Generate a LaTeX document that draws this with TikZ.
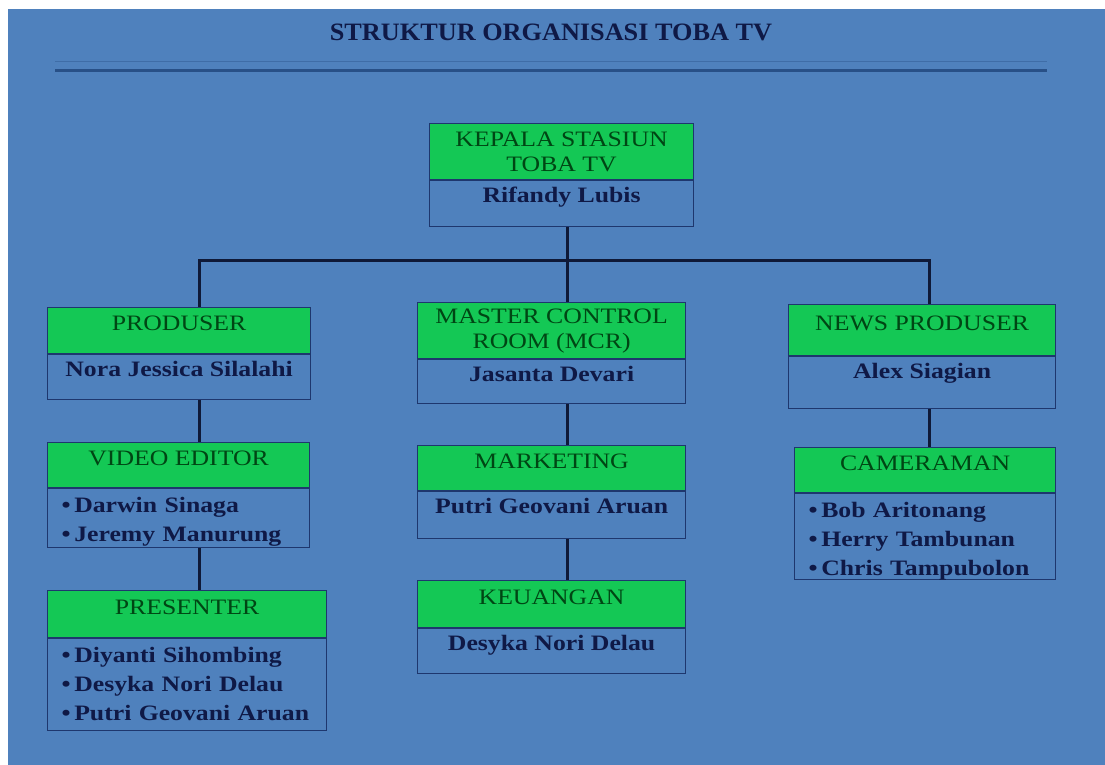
\documentclass[tikz,border=0pt]{standalone}
\usepackage{fontspec}
\setmainfont{Liberation Serif}[FakeStretch=1.17]
\newfontfamily\titlefont{Liberation Serif}[FakeStretch=1.05]
\usepackage{xcolor}
\usepackage{tikz}
\usetikzlibrary{positioning,calc}

\definecolor{bgblue}{RGB}{79,129,189}
\definecolor{headgreen}{RGB}{20,200,85}
\definecolor{headtext}{RGB}{0,70,20}
\definecolor{nametext}{RGB}{15,25,70}
\definecolor{boxline}{RGB}{30,55,110}
\definecolor{linenavy}{RGB}{15,25,55}
\definecolor{rulecol}{RGB}{40,80,135}

\tikzset{
  head/.style={draw=boxline,line width=1.2pt,fill=headgreen,text=headtext,anchor=north west,inner sep=0pt,align=center,font=\fontsize{22}{25}\selectfont},
  headone/.style={head,text height=22.6pt,text depth=22pt},
  body/.style={draw=boxline,line width=1.2pt,fill=bgblue,text=nametext,inner sep=0pt,font=\fontsize{22}{29}\selectfont\bfseries},
  bodyone/.style={body,text height=22pt,text depth=#1},
  bodylist/.style={body,align=left,inner xsep=14pt,text height=24pt,text depth=#1},
  conn/.style={draw=linenavy,line width=3pt}
}

\begin{document}
\begin{tikzpicture}[x=1pt,y=-1pt]
\useasboundingbox (0,0) rectangle (1105,765);
\fill[white] (0,0) rectangle (1105,765);
\fill[bgblue] (8,9) rectangle (1105,765);

% judul
\node[text=nametext,font={\titlefont\fontsize{25}{30}\selectfont\bfseries}] (title) at (551,32) {STRUKTUR ORGANISASI TOBA TV};
\draw[rulecol!40!bgblue,line width=0.8pt] (55,61) -- (1047,61);
\draw[rulecol,line width=3pt] (55,71) -- (1047,71);

% kepala
\node[head,minimum width=264pt,minimum height=56pt] (kepala) at (429,123) {KEPALA STASIUN\\TOBA TV};
\node[bodyone=24pt,minimum width=264pt,below=0pt of kepala] (kepala-body) {Rifandy Lubis};

% baris kedua
\node[headone,minimum width=263pt,minimum height=46pt] (produser) at (47,307) {PRODUSER};
\node[bodyone=23pt,minimum width=263pt,below=0pt of produser] (produser-body) {Nora Jessica Silalahi};
\node[head,minimum width=268pt,minimum height=56pt] (mcr) at (417,302) {MASTER CONTROL\\ROOM (MCR)};
\node[bodyone=22pt,minimum width=268pt,below=0pt of mcr] (mcr-body) {Jasanta Devari};
\node[headone,minimum width=267pt,minimum height=51pt] (news) at (788,304) {NEWS PRODUSER};
\node[bodyone=30pt,minimum width=267pt,below=0pt of news] (news-body) {Alex Siagian};

% baris ketiga
\node[headone,minimum width=262pt,minimum height=45pt] (video) at (47,442) {VIDEO EDITOR};
\node[bodylist=35pt,text width=234pt,minimum width=262pt,below=0pt of video] (video-body) {\textbullet\,Darwin Sinaga\\\textbullet\,Jeremy Manurung};
\node[headone,minimum width=268pt,minimum height=45pt] (marketing) at (417,445) {MARKETING};
\node[bodyone=25pt,minimum width=268pt,below=0pt of marketing] (marketing-body) {Putri Geovani Aruan};
\node[headone,minimum width=261pt,minimum height=45pt] (cameraman) at (794,447) {CAMERAMAN};
\node[bodylist=62pt,text width=233pt,minimum width=261pt,below=0pt of cameraman] (cameraman-body) {\textbullet\,Bob Aritonang\\\textbullet\,Herry Tambunan\\\textbullet\,Chris Tampubolon};

% baris keempat
\node[headone,minimum width=279pt,minimum height=47pt] (presenter) at (47,590) {PRESENTER};
\node[bodylist=68pt,text width=251pt,minimum width=279pt,below=0pt of presenter] (presenter-body) {\textbullet\,Diyanti Sihombing\\\textbullet\,Desyka Nori Delau\\\textbullet\,Putri Geovani Aruan};
\node[headone,minimum width=268pt,minimum height=47pt] (keuangan) at (417,580) {KEUANGAN};
\node[bodyone=23pt,minimum width=268pt,below=0pt of keuangan] (keuangan-body) {Desyka Nori Delau};

% garis
\coordinate (busL) at (199,260);
\coordinate (busM) at (567,260);
\coordinate (busR) at (929,260);
\draw[conn] (kepala-body.south -| busM) -- (busM |- mcr.north);
\draw[conn] (busL |- produser.north) -- (busL) -- (busR) -- (busR |- news.north);
\draw[conn] (produser-body.south -| busL) -- (busL |- video.north);
\draw[conn] (video-body.south -| busL) -- (busL |- presenter.north);
\draw[conn] (mcr-body.south -| busM) -- (busM |- marketing.north);
\draw[conn] (marketing-body.south -| busM) -- (busM |- keuangan.north);
\draw[conn] (news-body.south -| busR) -- (busR |- cameraman.north);
\end{tikzpicture}
\end{document}
